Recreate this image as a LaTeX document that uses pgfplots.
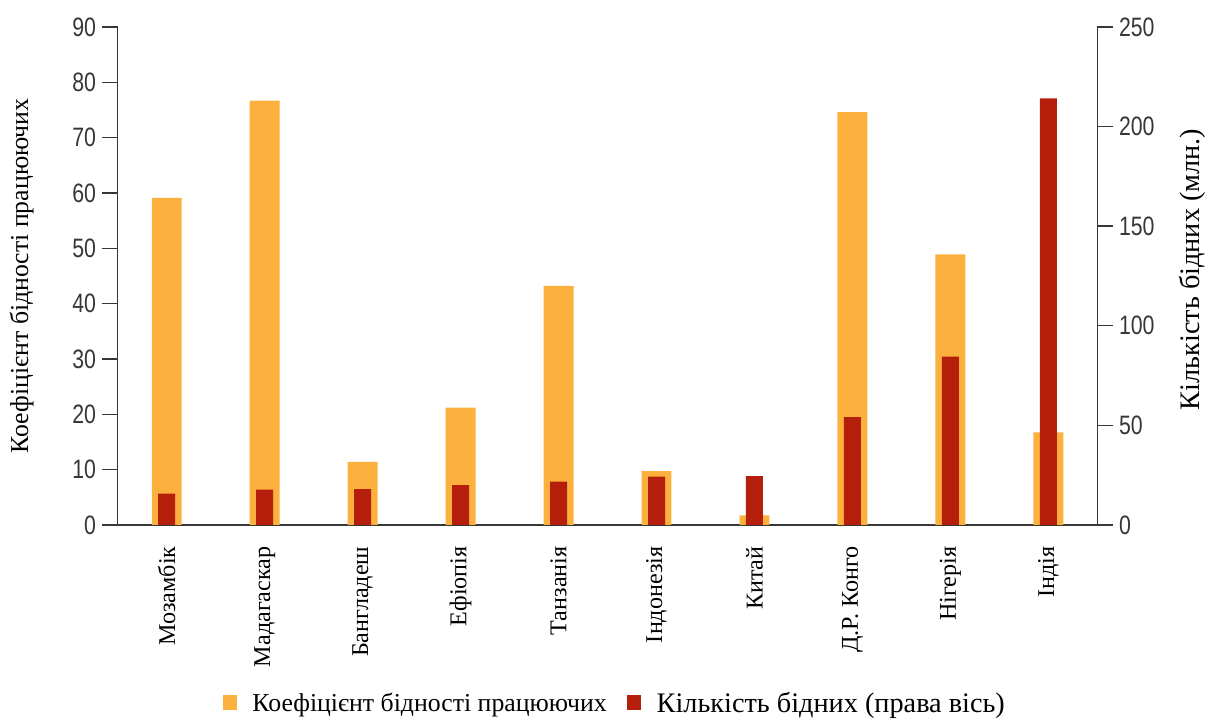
\documentclass[border=0pt]{standalone}
\usepackage{fontspec}
\setmainfont{Liberation Serif}
\newfontfamily\serifl{Liberation Serif}
\newfontfamily\tickfont[FakeStretch=0.8]{Liberation Sans}
\usepackage{pgfplots}
\pgfplotsset{compat=1.18}

\definecolor{barorange}{RGB}{252,176,62}
\definecolor{barred}{RGB}{182,30,12}
\definecolor{axisgray}{RGB}{55,55,55}

\begin{document}
\begin{tikzpicture}
\pgfplotsset{
  twin/.style={
    width=589pt, height=299.4pt, scale only axis,
    xmin=-0.5, xmax=9.5,
    ymin=0,
    tick align=outside,
    major tick length=9.5pt,
    every tick/.style={axisgray, line width=0.8pt},
    axis line style={axisgray, line width=0.9pt},
    /pgf/number format/assume math mode=true,
    yticklabel style={font=\tickfont\fontsize{16}{18}\selectfont, text=axisgray},
    ylabel style={font=\serifl\fontsize{15.5}{17}\selectfont},
  },
}

% left axis: working poverty rate
\begin{axis}[twin,
  ymax=90, ytick distance=10,
  axis y line*=left, axis x line*=bottom,
  xtick={0,...,9},
  xticklabels={Мозамбік, Мадагаскар, Бангладеш, Ефіопія, Танзанія, Індонезія, Китай, Д.Р. Конго, Нігерія, Індія},
  xticklabel style={rotate=90, anchor=east, font=\serifl\fontsize{14.5}{16}\selectfont},
  x tick style={draw=none},
  ylabel={Коефіцієнт бідності працюючих},
  ylabel style={at={(axis description cs:-0.098,0.5)}, anchor=center},
]
\addplot[ybar, bar width=18pt, fill=barorange, draw=none] coordinates {
  (0,59.1) (1,76.7) (2,11.4) (3,21.2) (4,43.2)
  (5,9.7) (6,1.7) (7,74.6) (8,48.9) (9,16.7)
};
\draw[axisgray, line width=0.9pt] (rel axis cs:0,0) -- ([yshift=-11pt]rel axis cs:0,0);
\end{axis}

% right axis: number of poor
\begin{axis}[twin,
  ymax=250, ytick distance=50,
  axis y line*=right, axis x line=none,
  ylabel={Кількість бідних (млн.)},
  ylabel style={at={(axis description cs:1.097,0.513)}, anchor=center,
    font=\serifl\fontsize{17}{19}\selectfont},
  legend style={at={(0.508,-0.359)}, anchor=center, draw=none,
    font=\serifl\fontsize{15.5}{17}\selectfont, legend columns=-1,
    /tikz/every even column/.append style={column sep=10pt}},
  legend image code/.code={\fill[#1, draw=none] (0pt,-3.6pt) rectangle (8.6pt,5pt);
    \path[draw=none, fill=none] (0pt,0pt) -- (16pt,0pt);},
]
\addlegendimage{fill=barorange}
\addlegendentry{Коефіцієнт бідності працюючих}
\addplot[ybar, bar width=10.2pt, fill=barred, draw=none] coordinates {
  (0,15.7) (1,17.7) (2,18.0) (3,20.0) (4,21.7)
  (5,24.2) (6,24.5) (7,54.1) (8,84.5) (9,214.1)
};
\addlegendentry{\fontsize{17}{19}\selectfont Кількість бідних (права вісь)}
\draw[axisgray, line width=0.9pt] (rel axis cs:1,0) -- ([yshift=-11pt]rel axis cs:1,0);
\end{axis}

\path (-70.8pt,-116.4pt) rectangle (655.8pt,315.6pt);
\end{tikzpicture}
\end{document}
